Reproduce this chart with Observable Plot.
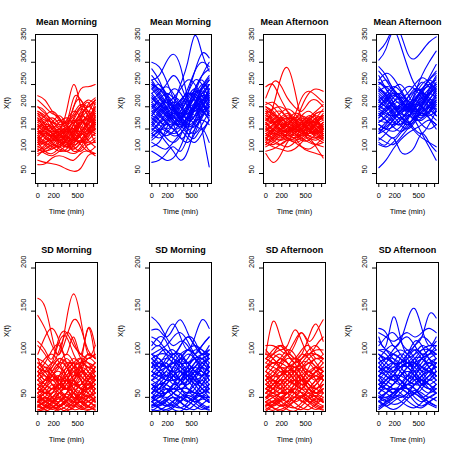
<!DOCTYPE html>
<html><head><meta charset="utf-8">
<script src="https://cdn.jsdelivr.net/npm/d3@7"></script>
<script src="https://cdn.jsdelivr.net/npm/@observablehq/plot@0.6"></script>
<style>
body{margin:0;background:#fff}
#grid{position:relative;width:455px;height:455px;background:#fff}
#grid svg{position:absolute;overflow:visible}
</style>
</head><body><div id="grid"></div>
<script>
const times = [0, 90, 180, 270, 360, 450, 540, 630, 720];
const xTicks = [0, 100, 200, 300, 400, 500, 600, 700];
const xLabels = [0, 200, 500];
const yTicksMean = [50, 100, 150, 200, 250, 300, 350];
const yTicksSD = [50, 100, 150, 200];
const yDomainMean = [27.6, 362.4];
const yDomainSD = [33.6, 206.4];
const titles = ["Mean Morning", "Mean Morning", "Mean Afternoon", "Mean Afternoon", "SD Morning", "SD Morning", "SD Afternoon", "SD Afternoon"];
const colors = ["#ff0000", "#0000ff", "#ff0000", "#0000ff", "#ff0000", "#0000ff", "#ff0000", "#0000ff"];

const meanMorningRed = [
[225,215,190,170,160,200,240,245,250],[80,75,72,68,60,55,62,90,95],[70,72,85,90,85,80,95,100,90],
[200,190,160,150,190,250,200,170,210],[215,200,185,175,165,220,215,200,215],[130,150,165,180,160,130,120,140,180],
[150,130,120,110,130,160,170,150,140],[170,160,140,150,170,190,175,160,200],[110,120,130,125,110,130,160,180,170],
[120,100,95,110,140,150,130,120,130],[190,175,150,140,130,150,180,200,190],[140,155,150,130,120,140,165,150,120],
[100,110,125,140,150,135,120,130,160],[160,140,135,145,155,170,150,140,165],[180,170,165,150,135,120,140,170,185],
[95,100,105,115,120,110,100,115,120],[135,120,110,100,105,125,145,160,150],[155,165,175,160,140,160,190,210,175],
[125,135,120,105,100,115,140,125,110],[175,150,130,125,140,175,200,190,160],[145,140,150,165,175,160,140,150,170],
[105,95,90,100,115,140,155,145,135],[165,180,190,175,150,145,165,180,195],[115,130,145,135,120,100,110,135,150],
[185,160,140,130,150,200,215,180,160],[130,115,105,120,140,150,145,170,200],[160,150,145,140,120,110,125,105,95],
[90,105,115,110,100,95,105,125,140],[200,185,170,155,160,180,200,215,205],[120,125,140,150,145,130,115,100,110],
[150,135,125,135,150,165,185,200,215],[140,145,130,115,110,120,150,175,160],
[135,150,140,120,115,135,170,190,180],[175,165,150,135,130,145,160,185,215],[110,105,115,130,135,125,135,160,175],
[150,160,155,140,145,170,195,180,150],[125,115,120,140,155,150,130,115,125],[190,180,160,140,125,130,160,175,165],
[100,115,135,145,130,115,125,150,165],[165,155,160,170,160,140,135,160,185],[145,130,115,110,125,150,165,160,145],
[120,140,155,150,135,125,140,165,190],[185,175,165,160,165,185,205,190,170],[105,100,110,120,115,105,120,140,150],
[155,145,135,125,125,145,175,205,220],[130,140,135,125,135,160,180,170,155],[170,155,140,135,150,165,170,155,140],
[115,120,125,120,110,105,120,145,165]
];
const meanMorningBlue = [
[300,290,260,220,200,230,280,320,310],[75,80,95,110,100,130,170,200,180],[260,270,300,318,290,220,180,200,240],
[180,170,160,200,250,300,360,320,280],[200,210,190,160,130,150,200,150,65],[100,90,80,85,110,150,200,240,250],
[285,260,220,180,170,200,240,260,230],[150,140,120,100,80,100,150,170,160],[240,250,230,200,180,190,230,270,300],
[220,200,180,160,170,200,220,210,190],[170,190,210,200,180,160,170,200,230],[130,150,170,185,175,150,140,160,190],
[250,230,210,220,240,260,250,230,250],[190,170,150,140,150,180,210,240,260],[160,180,200,220,210,180,160,150,170],
[210,220,200,170,160,180,200,190,210],[140,130,140,160,190,220,240,210,180],[230,210,190,180,200,230,260,250,220],
[120,110,105,120,140,160,180,200,220],[270,250,230,210,190,170,180,220,250],[180,200,220,240,230,200,170,180,200],
[200,180,170,190,210,240,280,300,290],[150,160,180,170,150,130,120,140,170],[215,230,245,230,200,170,180,210,240],
[165,150,130,120,135,170,200,230,210],[245,225,200,180,175,200,230,240,260],[110,120,150,180,170,140,130,150,120],
[190,200,210,195,170,150,160,190,200],[260,240,250,270,250,210,190,210,230],[135,145,160,150,130,120,140,180,200],
[225,205,185,175,190,215,235,225,205],[175,165,175,195,215,230,215,190,175],[205,190,165,150,155,175,195,215,235],
[155,175,195,210,200,185,200,225,215],
[185,200,215,205,185,175,195,230,250],[240,220,195,170,160,175,205,225,215],[160,145,135,145,165,195,225,250,240],
[210,195,180,185,205,225,230,210,185],[145,165,185,195,180,160,155,175,205],[230,240,225,200,185,195,220,245,265],
[175,160,150,160,180,205,215,195,170],[255,235,210,190,185,205,240,270,285],[195,215,230,220,200,185,190,205,220],
[140,150,145,135,140,165,195,215,200],[220,205,195,200,215,230,225,205,195],[165,185,200,190,170,155,165,195,225],
[250,240,220,195,180,185,210,235,225],[125,140,165,175,160,140,150,185,215],[205,185,165,160,175,195,205,190,180],
[180,195,185,165,155,170,205,245,270]
];
const meanAfternoonRed = [
[160,200,260,288,240,170,150,160,150],[245,250,220,190,170,200,230,240,235],[95,75,90,120,130,110,100,95,90],
[220,255,250,220,200,190,210,215,200],[120,110,105,100,105,120,130,110,85],[200,190,170,160,180,220,235,225,210],
[150,160,170,165,150,140,145,155,150],[180,175,160,140,130,140,160,175,180],[130,140,150,160,155,140,130,125,135],
[170,185,190,175,160,155,165,150,140],[110,120,135,145,140,130,120,115,120],[190,170,150,145,155,165,150,140,160],
[140,130,125,135,150,160,170,185,190],[165,150,140,130,125,130,145,160,170],[125,145,165,175,165,145,125,115,110],
[185,195,200,190,175,160,150,165,185],[100,105,115,125,120,110,105,115,130],[155,140,130,140,160,180,190,175,150],
[175,160,150,160,175,170,150,130,120],[135,150,170,180,170,150,140,150,165],[145,155,145,130,120,125,140,155,145],
[195,180,165,155,150,145,135,145,165],[115,125,140,150,165,175,160,140,125],[160,170,185,195,185,165,150,140,145],
[205,210,195,175,160,150,160,175,195],[140,125,115,110,120,140,160,165,155],[170,165,175,185,170,150,135,130,140],
[120,135,145,140,130,135,150,170,180],[185,165,145,135,140,155,175,190,205],[150,145,155,170,185,180,165,150,135],
[130,120,115,125,140,150,145,135,125],[210,200,180,160,145,150,170,180,170],
[145,160,175,170,155,145,150,165,175],[175,165,150,145,150,165,180,170,155],[125,130,145,160,165,150,135,130,140],
[160,150,140,145,160,170,160,145,130],[190,185,170,155,145,150,165,185,190],[135,145,160,155,140,125,125,140,160],
[115,130,150,165,160,145,140,145,150],[170,180,175,160,145,135,140,160,180],[150,135,125,130,145,165,175,160,140],
[200,185,165,150,150,160,170,165,150],[140,150,165,175,170,160,150,140,130],[120,115,125,140,150,145,140,150,165],
[180,170,160,165,175,180,170,150,135],[155,165,160,145,135,140,155,170,175],[165,145,135,140,155,160,150,140,150],
[130,140,135,125,130,150,165,165,150]
];
const meanAfternoonBlue = [
[325,345,375,365,320,308,325,345,357],[305,330,370,340,290,250,240,260,280],[63,80,105,125,140,150,160,170,160],
[200,190,170,160,180,170,140,110,80],[120,115,130,100,95,110,140,120,100],[290,270,240,220,200,230,270,300,325],
[250,260,240,210,190,200,230,250,260],[180,200,220,230,210,190,180,200,220],[150,140,130,145,170,200,220,210,190],
[220,210,190,170,160,180,210,230,240],[270,240,210,180,160,170,200,240,270],[140,160,180,200,220,240,230,200,180],
[200,220,240,250,230,200,180,190,210],[160,150,145,155,175,195,215,230,220],[230,215,200,185,180,195,220,240,250],
[175,190,200,190,170,150,140,160,190],[240,225,205,195,210,235,255,245,225],[130,120,115,130,150,170,190,200,195],
[210,200,180,160,150,165,190,215,235],[190,180,165,160,175,200,225,210,180],[255,245,230,220,230,250,265,255,235],
[165,175,190,205,200,180,160,150,160],[215,230,245,235,210,185,175,190,215],[145,155,170,185,195,205,200,185,170],
[235,220,200,180,165,175,200,225,245],[185,170,155,145,155,180,205,230,255],[260,275,265,240,215,200,210,235,265],
[125,140,160,175,165,145,130,120,110],[205,195,210,230,245,240,220,200,195],[170,165,175,190,205,215,200,175,150],
[280,260,235,215,200,210,235,265,295],[195,210,225,215,195,175,170,185,205],[115,110,120,140,160,175,185,175,160],
[200,215,230,225,205,190,195,215,240],[240,230,210,195,195,215,240,250,240],[165,180,195,200,185,170,175,200,225],
[225,205,185,175,185,210,235,245,230],[185,170,160,170,190,215,230,220,200],[150,165,185,200,205,195,185,190,205],
[255,240,220,205,200,215,240,260,275],[175,190,205,210,195,180,185,205,230],[210,225,230,215,195,185,200,225,245],
[140,150,170,190,200,195,185,180,190],[235,245,240,220,200,190,205,230,250],[195,185,180,185,200,220,230,215,195],
[160,150,155,170,190,205,210,195,180],[245,225,200,190,200,225,250,260,250],[180,195,210,220,215,200,190,200,215],
[215,200,195,205,220,235,235,220,210]
];
const sdMorningRed = [
[165,155,120,100,140,170,140,100,110],[145,130,110,100,120,140,130,105,95],[115,105,95,120,125,110,100,95,100],
[100,120,130,115,100,120,100,130,110],[95,80,90,115,120,100,90,95,100],[80,90,105,110,90,75,85,100,95],
[70,60,55,70,85,90,75,70,80],[60,50,45,55,65,70,60,50,55],[50,55,65,60,50,45,55,70,75],
[85,75,65,60,70,85,95,90,80],[45,40,45,55,60,55,45,40,50],[65,70,80,85,75,60,55,60,70],
[55,65,70,60,45,40,50,65,60],[75,85,80,70,60,65,80,95,90],[40,45,55,65,70,60,50,45,40],
[90,80,70,75,85,95,85,70,60],[60,55,60,75,90,85,70,60,65],[50,60,75,80,70,55,45,50,60],
[70,75,65,55,50,60,75,85,80],[45,50,60,50,40,45,60,70,85],[85,95,100,90,75,70,80,75,65],
[55,45,40,45,55,70,80,70,55],[65,60,50,45,55,65,60,55,45],[75,65,60,65,80,90,95,80,70],
[40,38,45,50,45,40,40,50,55],[95,90,80,65,60,75,90,100,95],[60,70,85,95,85,70,65,75,85],
[50,45,50,60,70,80,70,55,45],[80,70,75,90,100,90,70,60,75],[45,55,50,40,45,55,65,60,50],
[80,70,75,85,95,85,90,130,95],[110,100,90,105,125,115,95,85,90],
[55,60,70,75,65,55,50,60,70],[70,65,60,65,75,85,80,70,60],[45,40,38,45,55,60,55,50,60],[85,80,85,95,90,80,70,65,70],
[60,70,75,70,60,50,55,70,85],[50,48,55,65,70,65,60,65,75],[75,80,75,65,60,70,85,90,85],[40,45,50,55,50,45,45,55,65],
[90,85,75,70,75,85,90,85,75],[65,55,50,55,65,75,75,65,55],[55,65,80,90,85,70,60,60,65],[80,75,70,70,80,90,85,75,70],
[45,50,45,40,45,55,65,75,80],[70,80,90,85,75,65,70,80,90],[60,55,55,60,70,80,85,80,70],[50,55,60,65,60,50,45,45,50],
[35,40,48,42,36,38,45,40,35],[42,36,33,38,46,50,44,38,42],[38,45,40,34,36,44,50,46,40],[48,42,38,40,48,55,48,40,36],
[33,38,44,48,42,36,38,45,50],[44,50,46,38,34,40,48,52,46],[36,34,38,45,50,45,38,35,40],[52,46,40,36,40,48,54,50,44],
[40,36,42,50,54,48,40,36,38],[46,40,36,40,46,42,36,40,48]
];
const sdMorningBlue = [
[143,135,120,110,115,110,100,110,120],[128,128,120,130,140,125,110,105,100],[115,110,125,135,120,105,120,140,130],
[110,120,115,100,110,120,115,100,105],[100,105,110,120,125,115,100,95,100],[95,90,100,105,95,90,100,110,120],
[85,80,70,75,90,100,95,85,80],[75,85,90,80,70,65,75,90,95],[65,60,55,65,80,85,75,65,70],
[55,65,75,80,70,60,55,65,80],[45,50,60,55,50,55,65,70,60],[90,95,85,75,70,80,90,95,85],
[70,65,70,85,95,90,80,75,90],[50,45,40,45,55,70,80,75,65],[80,75,80,95,100,85,70,60,55],
[60,70,80,70,60,55,60,75,85],[100,95,85,80,85,95,105,100,90],[40,45,55,65,60,50,45,50,60],
[85,100,105,95,85,80,90,100,105],[65,55,50,55,65,75,85,90,80],[95,85,75,65,70,85,95,85,70],
[55,60,70,85,90,80,70,65,55],[75,70,65,60,65,75,70,60,50],[105,110,100,90,95,105,110,105,95],
[45,40,45,50,45,40,50,60,65],[70,80,95,100,90,75,65,70,80],[90,80,75,80,95,105,95,80,75],
[60,65,60,50,45,55,70,85,95],[80,90,95,90,80,70,75,85,100],[50,55,65,75,80,70,60,50,45],
[120,115,105,100,110,120,110,100,110],
[55,50,55,65,75,80,75,65,60],[75,80,85,85,80,75,80,90,95],[45,50,55,60,55,50,55,65,75],[90,85,90,100,100,90,80,75,80],
[65,70,75,70,65,70,80,85,80],[50,60,70,75,70,60,55,55,60],[80,75,70,70,75,85,95,95,85],[40,42,48,55,60,60,55,50,50],
[95,100,100,95,90,90,95,100,100],[60,55,55,60,70,80,85,80,75],[70,75,85,90,85,75,70,75,85],[85,90,85,75,70,75,85,95,100],
[45,55,60,55,50,45,50,55,65],[100,90,85,90,100,105,100,90,85],[55,65,65,60,60,65,75,80,70],[65,60,65,75,80,75,65,55,50],
[38,42,48,44,38,36,42,48,44],[45,38,34,38,45,52,48,40,36],[34,40,46,50,44,38,36,42,48],[50,44,40,42,50,56,50,42,38],
[40,46,42,36,34,40,48,52,46],[36,35,40,46,50,46,40,36,40],[48,52,46,40,38,44,52,50,44],[42,38,36,40,46,50,44,38,35]
];
const sdAfternoonRed = [
[100,138,120,100,95,105,110,100,95],[110,110,105,100,110,125,115,125,140],[95,100,105,110,128,115,100,110,120],
[105,95,90,100,115,125,110,95,100],[90,100,110,105,95,100,120,135,115],[85,80,75,85,95,90,80,85,95],
[75,85,95,90,80,70,75,85,80],[65,60,65,75,85,80,70,60,55],[55,65,75,80,70,60,55,65,75],
[45,50,55,60,55,50,55,50,45],[80,70,60,55,65,80,90,85,70],[70,75,85,95,90,75,60,55,65],
[60,55,50,55,65,70,65,60,70],[50,60,70,65,55,45,50,60,65],[90,85,80,70,65,70,85,95,90],
[40,45,55,65,70,65,55,45,40],[95,90,95,105,100,85,75,80,90],[65,70,65,55,45,50,60,70,80],
[55,50,45,50,60,75,80,70,55],[85,95,100,90,75,65,70,80,85],[75,65,60,65,75,85,95,100,95],
[45,40,45,55,60,55,45,45,55],[100,95,85,80,90,100,95,85,80],[60,70,80,75,65,60,70,80,75],
[70,60,55,60,70,75,65,55,50],[80,90,85,75,80,95,100,90,80],[50,55,65,75,80,70,60,55,60],
[95,105,110,100,90,95,105,110,100],[40,45,40,45,55,65,60,50,45],[65,75,90,100,95,85,75,70,75],
[55,60,70,80,80,70,60,55,60],[75,70,65,70,80,90,90,80,70],[45,50,55,55,50,50,60,70,75],[85,90,90,85,80,85,90,95,95],
[60,65,70,70,65,60,60,65,75],[50,55,50,45,50,60,70,75,70],[70,80,85,80,70,65,70,75,80],[40,42,48,55,60,55,50,45,50],
[95,90,85,85,90,95,100,100,95],[65,60,55,55,60,70,80,85,80],[55,65,75,85,85,75,65,60,65],[80,75,75,80,85,85,80,75,70],
[45,45,50,55,55,50,45,50,60],[100,100,95,90,85,90,100,105,105],[60,55,60,70,75,70,60,55,55],[70,75,70,60,55,60,70,80,85],
[36,42,48,44,38,36,42,48,44],[44,38,34,38,46,52,46,40,36],[34,40,46,50,44,38,36,42,48],[50,44,40,42,50,56,50,42,38],
[40,46,42,36,34,40,48,52,46],[38,35,40,46,50,46,40,36,40],[48,52,46,40,38,44,52,50,44],[42,38,36,40,46,50,44,38,35]
];
const sdAfternoonBlue = [
[130,125,110,115,140,153,130,110,120],[120,110,143,120,100,110,120,146,142],[125,120,115,120,125,120,125,130,125],
[110,120,125,115,105,110,120,115,105],[100,95,105,115,120,110,100,105,115],[95,85,80,90,100,105,95,90,85],
[85,95,100,95,85,80,85,95,100],[75,70,65,75,85,90,80,70,75],[65,75,85,80,70,65,70,80,85],
[55,50,55,65,75,70,60,55,60],[45,55,65,70,60,50,45,50,55],[90,80,70,65,75,90,100,95,80],
[70,80,90,100,95,80,70,75,90],[60,55,50,55,65,75,85,80,70],[80,85,80,70,65,70,80,90,95],
[50,45,50,60,65,60,50,45,40],[105,100,90,85,90,100,110,105,95],[75,65,60,60,70,80,90,100,105],
[95,105,110,100,90,85,95,105,100],[60,70,75,70,60,55,60,70,65],[85,75,70,80,95,105,100,85,75],
[40,45,55,60,55,45,40,45,50],[70,60,55,60,70,75,70,60,55],[115,105,95,90,100,115,110,95,90],
[55,65,75,85,90,85,75,65,60],[90,95,90,80,75,85,95,100,110],[65,60,65,75,80,75,65,70,80],
[100,90,85,95,105,95,85,80,90],[50,55,60,55,50,55,65,75,70],[80,90,100,105,100,90,80,85,95],
[45,40,45,50,55,65,70,65,55],
[60,65,75,85,85,75,65,60,65],[80,75,70,75,85,95,95,85,75],[50,55,60,60,55,55,65,75,80],[90,95,95,90,85,90,95,100,100],
[65,70,75,75,70,65,65,70,80],[55,60,55,50,55,65,75,80,75],[75,85,90,85,75,70,75,80,85],[45,48,52,60,65,60,55,50,55],
[100,95,90,90,95,100,105,105,100],[70,65,60,60,65,75,85,90,85],[60,70,80,90,90,80,70,65,70],[85,80,80,85,90,90,85,80,75],
[50,50,55,60,60,55,50,55,65],[105,105,100,95,90,95,105,110,110],[65,60,65,75,80,75,65,60,60],[75,80,75,65,60,65,75,85,90],
[38,44,50,46,40,38,44,50,46],[46,40,36,40,48,54,48,42,38],[36,42,48,52,46,40,38,44,50],[52,46,42,44,52,58,52,44,40]
];

const panelCurves = [meanMorningRed, meanMorningBlue, meanAfternoonRed, meanAfternoonBlue,
                     sdMorningRed, sdMorningBlue, sdAfternoonRed, sdAfternoonBlue];

const grid = document.getElementById("grid");
const font = "'Liberation Sans', Arial, Helvetica, sans-serif";

panelCurves.forEach((curves, k) => {
  const row = Math.floor(k / 4), col = k % 4;
  const isMean = row === 0;
  const yTicks = isMean ? yTicksMean : yTicksSD;
  const rows = curves.flatMap((c, i) => c.map((v, j) => ({id: i, t: times[j], v})));
  const svg = Plot.plot({
    width: 114, height: 228,
    marginLeft: 35, marginRight: 17, marginTop: 34, marginBottom: 45,
    x: {domain: [-29, 749]},
    y: {domain: isMean ? yDomainMean : yDomainSD},
    style: {fontFamily: font, fontSize: "7.5px", background: "transparent", color: "black"},
    marks: [
      Plot.line(rows, {x: "t", y: "v", z: "id", stroke: colors[k], strokeWidth: 1.1, curve: "natural", clip: true}),
      Plot.frame({stroke: "black", strokeWidth: 1}),
      Plot.axisX({ticks: xTicks, tickFormat: () => "", tickSize: 4, label: null, stroke: "black"}),
      Plot.axisY({ticks: yTicks, tickFormat: () => "", tickSize: 4, label: null, stroke: "black"}),
      Plot.text(xLabels, {x: d => d, text: d => String(d), frameAnchor: "bottom", dy: 14, fill: "black"}),
      Plot.text(yTicks, {y: d => d, text: d => String(d), frameAnchor: "left", dx: -12, rotate: -90, fill: "black"}),
      Plot.text(["Time (min)"], {text: d => d, frameAnchor: "bottom", dy: 30, fill: "black"}),
      Plot.text(["X(t)"], {text: d => d, frameAnchor: "left", dx: -29, rotate: -90, fill: "black"}),
      Plot.text([titles[k]], {text: d => d, frameAnchor: "top", dy: -16, fontWeight: "bold", fontSize: 9, fill: "black"})
    ]
  });
  svg.style.left = (col * 113.75) + "px";
  svg.style.top = (row * 227.5) + "px";
  grid.appendChild(svg);
});
</script>
</body></html>
